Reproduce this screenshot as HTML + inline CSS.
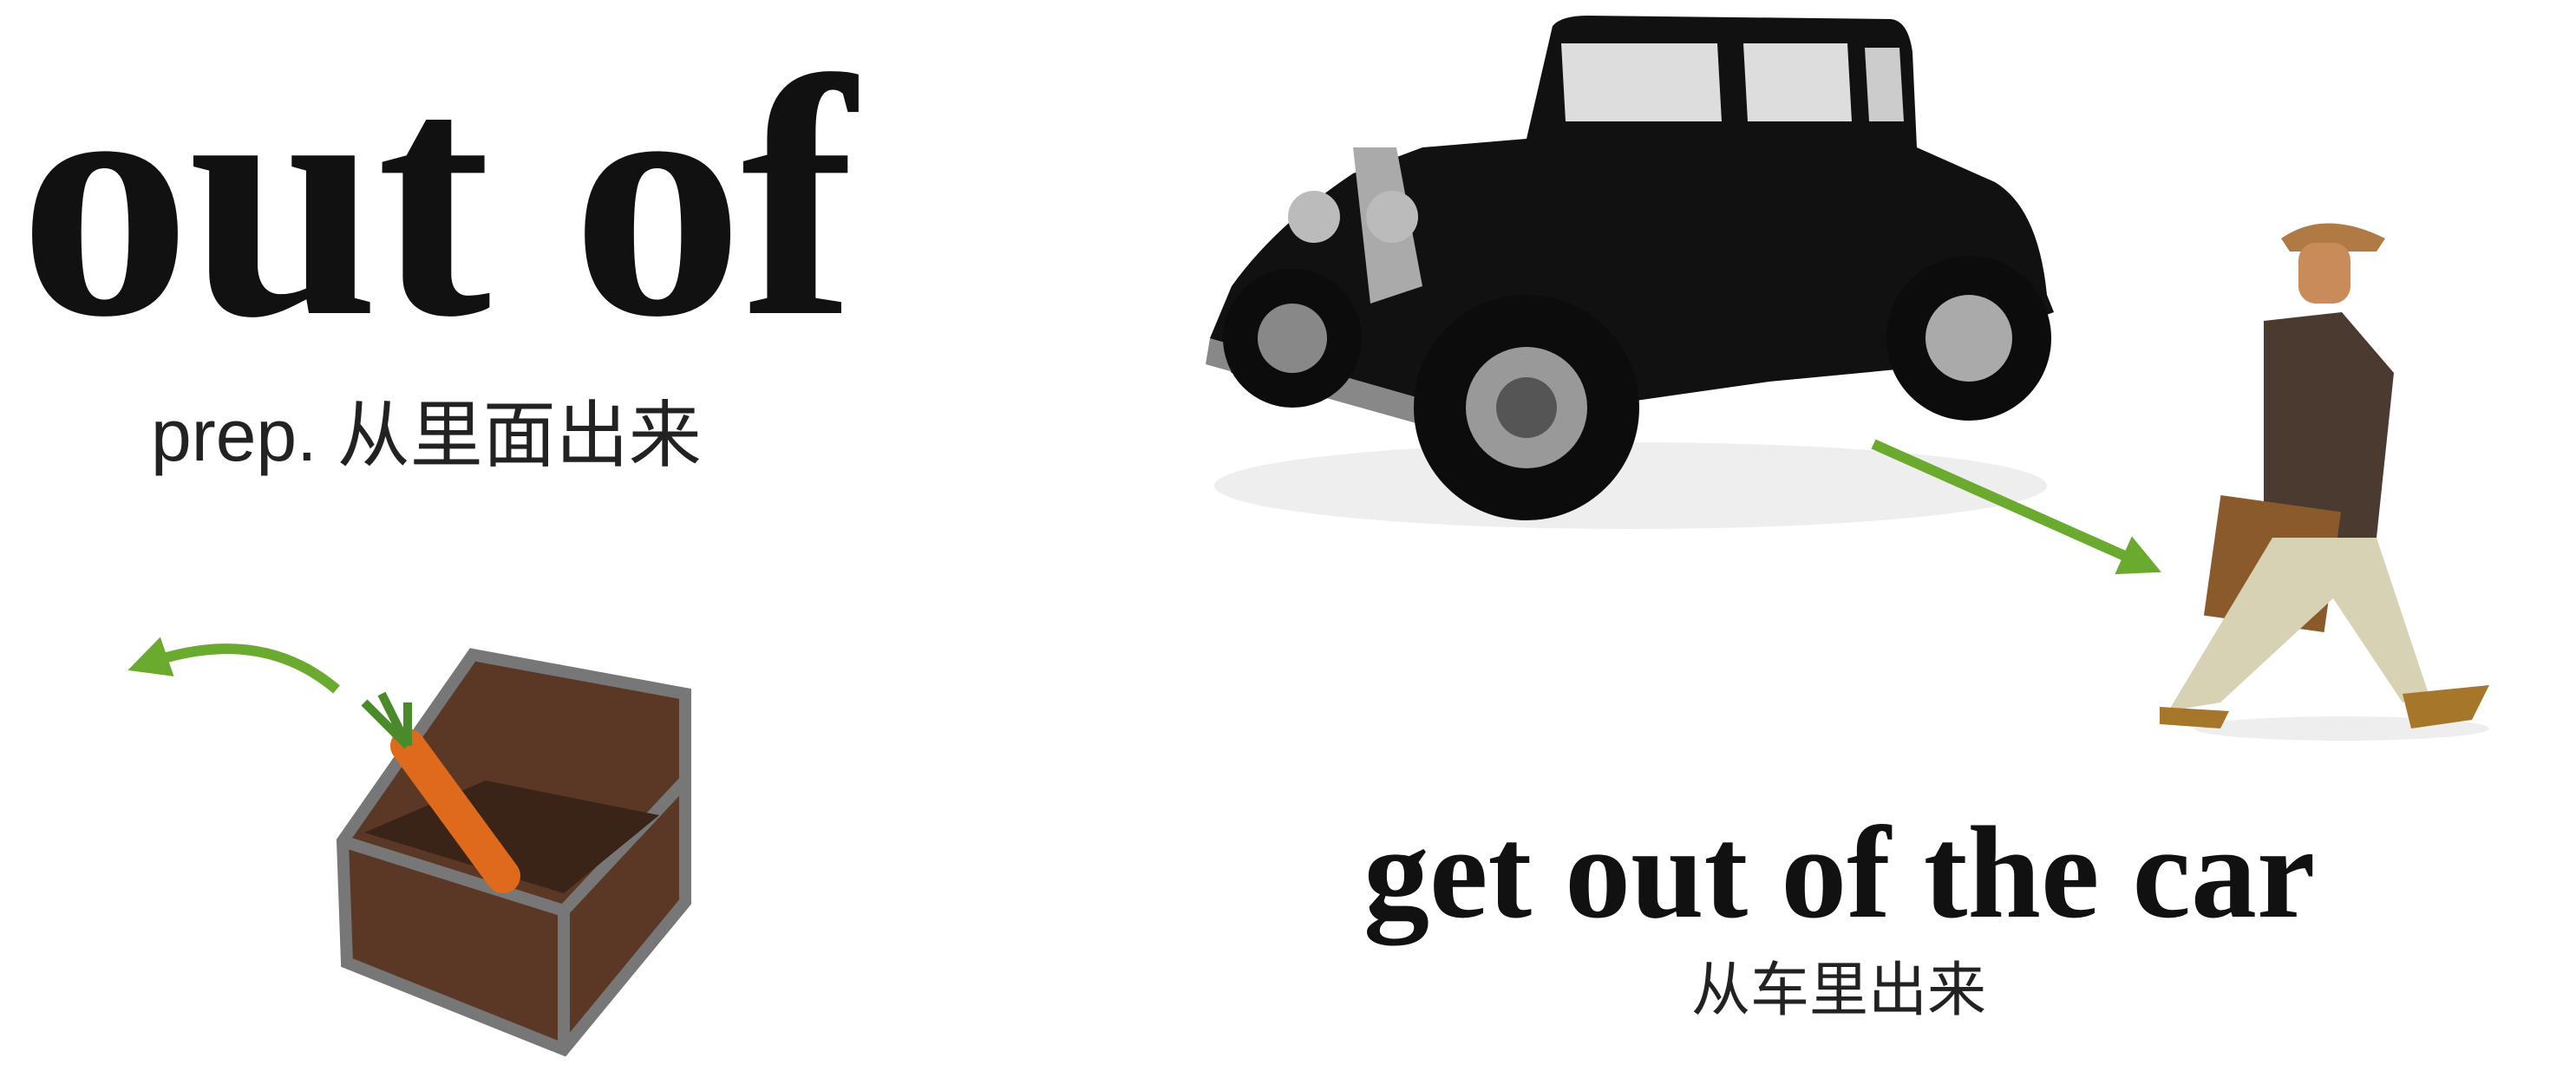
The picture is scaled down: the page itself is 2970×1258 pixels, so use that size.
<!DOCTYPE html>
<html><head><meta charset="utf-8"><style>
html,body{margin:0;padding:0;background:#fff;}
body{width:2970px;height:1258px;position:relative;overflow:hidden;}
.t{position:absolute;white-space:nowrap;color:#111;}
</style></head><body>
<div class="t" style="left:22px;top:30px;font:bold 396px/1 'Liberation Serif',serif;letter-spacing:-3px;">out of</div>
<div class="t" style="left:174px;top:460px;font:84px/1 'Liberation Sans','Noto Sans CJK SC',sans-serif;color:#222;">prep. 从里面出来</div>
<div class="t" style="left:1572px;top:930px;font:bold 152px/1 'Liberation Serif',serif;">get out of the car</div>
<div class="t" style="left:1950px;top:1108px;font:68px/1 'Liberation Sans','Noto Sans CJK SC',sans-serif;color:#222;">从车里出来</div>
<svg width="2970" height="1258" style="position:absolute;left:0;top:0">
 <defs><marker id="ah" markerWidth="4" markerHeight="4" refX="2" refY="2" orient="auto"><path d="M0,0L4,2L0,4z" fill="#6aab2f"/></marker></defs>
 <g>
  <ellipse cx="1880" cy="560" rx="480" ry="50" fill="#eee"/>
  <path d="M1790,30 Q1800,18 1830,18 L2180,22 Q2200,24 2205,60 L2210,170 L2300,210 Q2350,240 2360,340 L2368,360 L2340,370 L2250,420 L2040,440 L1830,470 L1600,470 L1420,430 L1395,390 L1420,330 Q1470,260 1560,200 L1640,170 L1760,160 Z" fill="#111"/>
  <path d="M1800,50 L1980,50 L1985,140 L1805,140 Z" fill="#ddd"/>
  <path d="M2010,50 L2130,50 L2135,140 L2015,140 Z" fill="#ddd"/>
  <path d="M2150,55 L2190,55 L2195,140 L2155,140 Z" fill="#ccc"/>
  <path d="M1560,170 L1610,170 L1640,330 L1580,350 Z" fill="#aaa"/>
  <path d="M1395,390 L1640,460 L1640,490 L1390,420 Z" fill="#888"/>
  <circle cx="1760" cy="470" r="130" fill="#0c0c0c"/><circle cx="1760" cy="470" r="70" fill="#999"/><circle cx="1760" cy="470" r="35" fill="#555"/>
  <circle cx="2270" cy="390" r="95" fill="#0c0c0c"/><circle cx="2270" cy="390" r="50" fill="#aaa"/>
  <circle cx="1490" cy="390" r="80" fill="#0c0c0c"/><circle cx="1490" cy="390" r="40" fill="#888"/>
  <circle cx="1515" cy="250" r="30" fill="#bbb"/><circle cx="1605" cy="250" r="30" fill="#bbb"/>
 </g>
 <line x1="2160" y1="512" x2="2470" y2="650" stroke="#6aab2f" stroke-width="12" marker-end="url(#ah)"/>
 <g>
  <ellipse cx="2700" cy="840" rx="170" ry="14" fill="#eee"/>
  <path d="M2630,275 Q2680,240 2750,275 L2740,290 L2640,290 Z" fill="#b07a45"/>
  <rect x="2650" y="280" width="60" height="70" rx="20" fill="#c98b5a"/>
  <path d="M2610,370 L2700,360 L2760,430 L2740,620 L2610,620 Z" fill="#4a3a30"/>
  <rect x="2550" y="580" width="140" height="140" fill="#8b5a2b" transform="rotate(8 2620 650)"/>
  <path d="M2620,620 L2740,620 L2800,800 L2770,810 L2690,690 L2560,810 L2500,820 Z" fill="#d8d2b4"/>
  <path d="M2490,815 L2570,820 L2560,840 L2490,835 Z" fill="#a6772a"/>
  <path d="M2770,800 L2870,790 L2850,830 L2780,840 Z" fill="#a6772a"/>
 </g>
 <path d="M388,795 Q300,720 170,765" fill="none" stroke="#6aab2f" stroke-width="12" marker-end="url(#ah)"/>
 <g>
  <path d="M545,755 L790,800 L790,1040 L650,1210 L400,1110 L395,970 Z" fill="#5a3825" stroke="#777" stroke-width="14"/>
  <path d="M395,970 L650,1050 L790,900" fill="none" stroke="#777" stroke-width="14"/>
  <path d="M650,1050 L650,1210" stroke="#777" stroke-width="14"/>
  <path d="M420,960 L560,900 L760,940 L650,1030 Z" fill="#3a2418"/>
  <path d="M470,860 L580,1010" stroke="#e06a1c" stroke-width="40" stroke-linecap="round"/>
  <path d="M470,860 L420,810 M470,860 L440,800 M470,860 L470,810" stroke="#4a8a2a" stroke-width="10"/>
 </g>
</svg>
</body></html>
